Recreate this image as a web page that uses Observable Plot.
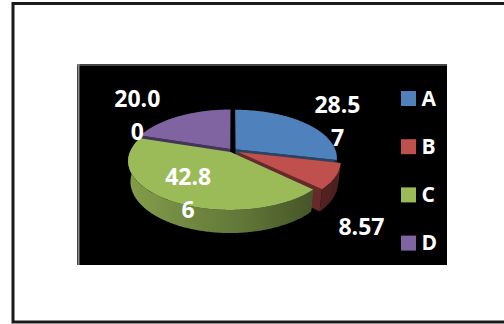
<!DOCTYPE html>
<html><head><meta charset="utf-8">
<script src="https://cdn.jsdelivr.net/npm/d3@7"></script>
<script src="https://cdn.jsdelivr.net/npm/@observablehq/plot@0.6"></script>
<style>html,body{margin:0;padding:0;background:#fff;} #chart{width:504px;height:324px;overflow:hidden}</style>
</head><body><div id="chart"></div>
<script>
// ---- data ----
const categories = ["A", "B", "C", "D"];
const values = [28.57, 8.57, 42.86, 20.00];
const labelTexts = ["28.5\n7", "8.57", "42.8\n6", "20.0\n0"];
const sliceColors = ["#4f81bd", "#c0504d", "#9bbb59", "#8064a2"];

// ---- layout / projection ----
const W = 504, H = 324;
const cam = {cx: 232, cy: 150, s: 100, D: 5, alpha: 28 * Math.PI / 180, h: 0.235};
const sinA = Math.sin(cam.alpha), cosA = Math.cos(cam.alpha);
function proj(X, Yd, Z) {
  const w = cam.D + Yd * cosA - Z * sinA;
  const v = Yd * sinA + Z * cosA;
  const k = cam.D / w;
  return [cam.cx + cam.s * X * k, cam.cy - cam.s * v * k];
}
const explode = [0.04, 0.065, 0.04, 0.04];
const total = d3.sum(values);
let acc = 0;
const slices = values.map((v, i) => {
  const a0 = acc / total * 360; acc += v; const a1 = acc / total * 360;
  return {i, cat: categories[i], v, a0, a1, mid: (a0 + a1) / 2};
});
const rad = d => d * Math.PI / 180;
function pt(s, r, deg, Z) {
  const ox = explode[s.i] * Math.sin(rad(s.mid)), oy = explode[s.i] * Math.cos(rad(s.mid));
  return proj(ox + r * Math.sin(rad(deg)), oy + r * Math.cos(rad(deg)), Z);
}
function arcDegs(a0, a1) {
  const n = Math.max(2, Math.ceil(a1 - a0));
  return d3.range(n + 1).map(j => a0 + (a1 - a0) * j / n);
}

const tops = [], walls = [], faces = [];
for (const s of slices) {
  const ring = [pt(s, 0, 0, 0), ...arcDegs(s.a0, s.a1).map(a => pt(s, 1, a, 0))];
  ring.forEach(([x, y]) => tops.push({key: s.cat, x, y, fill: sliceColors[s.i]}));
  for (const [j, a] of [[0, s.a0], [1, s.a1]]) {
    const poly = [pt(s, 0, a, 0), pt(s, 1, a, 0), pt(s, 1, a, -cam.h), pt(s, 0, a, -cam.h)];
    poly.forEach(([x, y]) => faces.push({key: s.cat + j, x, y, fill: d3.color(sliceColors[s.i]).darker(1.8).formatHex()}));
  }
  const b0 = Math.max(s.a0, 90), b1 = Math.min(s.a1, 270);
  if (b1 > b0) {
    const degs = arcDegs(b0, b1);
    const poly = [...degs.map(a => pt(s, 1, a, 0)), ...degs.slice().reverse().map(a => pt(s, 1, a, -cam.h))];
    poly.forEach(([x, y]) => walls.push({key: s.cat, x, y, fill: `url(#wall${s.i})`}));
  }
}

// labels: anchored at slice mid-angle, nudged like Excel's best-fit placement
const labelR = [1, 1, 0.6, 1];
const labelNudge = [[32, -4], [26, 48], [-8, 12], [-42, -3]];
const labelData = slices.map(s => {
  const [x, y] = pt(s, labelR[s.i], s.mid, 0);
  return {x: x + labelNudge[s.i][0], y: y + labelNudge[s.i][1], text: labelTexts[s.i]};
});

// legend
const legend = categories.map((c, i) => ({
  cat: c, fill: sliceColors[i],
  x1: 401, x2: 416, y1: 91 + i * 48.2, y2: 106 + i * 48.2,
  tx: 421, ty: 98.5 + i * 48.2
}));

const outer = [{x1: 13, x2: 508, y1: 3.5, y2: 322}];
const panel = [{x1: 77, x2: 447, y1: 64, y2: 265}];

const plot = Plot.plot({
  width: W, height: H, margin: 0,
  x: {domain: [0, W], range: [0, W], axis: null},
  y: {domain: [0, H], range: [0, H], axis: null},
  color: {type: "identity"},
  style: {background: "#fff"},
  marks: [
    Plot.rect(outer, {x1: "x1", x2: "x2", y1: "y1", y2: "y2", fill: "none", stroke: "#1a1a1a", strokeWidth: 3}),
    Plot.rect(panel, {x1: "x1", x2: "x2", y1: "y1", y2: "y2", fill: "#000"}),
    Plot.ruleX(panel, {x: d => d.x1 + 1, y1: "y1", y2: "y2", stroke: "#8a8a8a", strokeWidth: 2}),
    Plot.ruleY(panel, {y: d => d.y1 + 0.5, x1: "x1", x2: "x2", stroke: "#8a8a8a", strokeWidth: 1}),
    Plot.line(faces, {x: "x", y: "y", z: "key", fill: "fill", stroke: "none"}),
    Plot.line(walls, {x: "x", y: "y", z: "key", fill: "fill", stroke: "none"}),
    Plot.line(tops, {x: "x", y: "y", z: "key", fill: "fill", stroke: "none"}),
    Plot.text(labelData, {x: "x", y: "y", text: "text", fill: "#fff", fontSize: 23, fontWeight: "bold", fontFamily: "'Open Sans', sans-serif", lineHeight: 1.43}),
    Plot.rect(legend, {x1: "x1", x2: "x2", y1: "y1", y2: "y2", fill: "fill"}),
    Plot.text(legend, {x: "tx", y: "ty", text: "cat", textAnchor: "start", fill: "#fff", fontSize: 21, fontWeight: "bold", fontFamily: "'Open Sans', sans-serif"})
  ]
});

const defs = d3.select(plot).insert("defs", ":first-child");
sliceColors.forEach((c, i) => {
  const g = defs.append("linearGradient").attr("id", `wall${i}`).attr("gradientUnits", "userSpaceOnUse")
    .attr("x1", 130).attr("x2", 335).attr("y1", 0).attr("y2", 0);
  [[0, 0.5], [0.55, 1.3], [1, 2.6]].forEach(([o, k]) =>
    g.append("stop").attr("offset", o).attr("stop-color", d3.color(c).darker(k).formatHex()));
});
document.getElementById("chart").appendChild(plot);
</script>
</body></html>
